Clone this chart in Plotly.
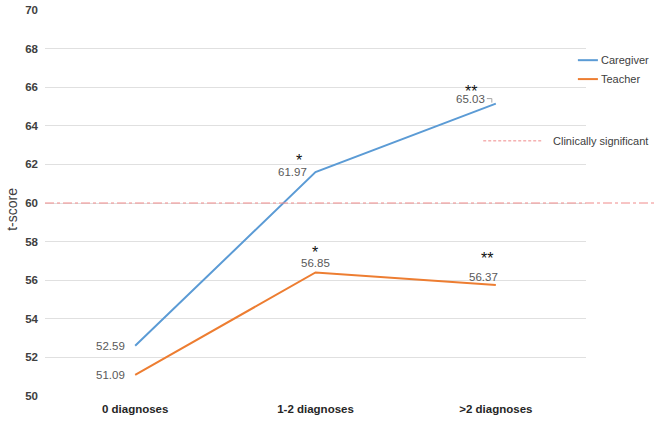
import plotly.graph_objects as go

categories = ["0 diagnoses", "1-2 diagnoses", ">2 diagnoses"]
caregiver = [52.6, 61.6, 65.15]
teacher = [51.1, 56.4, 55.75]
caregiver_labels = ["52.59", "61.97", "65.03"]
teacher_labels = ["51.09", "56.85", "56.37"]
caregiver_stars = ["", "*", "**"]
teacher_stars = ["", "*", "**"]
threshold = 60
y_ticks = [50, 52, 54, 56, 58, 60, 62, 64, 66, 68, 70]

BLUE = "#5B9BD5"
ORANGE = "#ED7D31"
RED = "#F08A8A"
FONT = "Liberation Sans, Arial, sans-serif"

fig = go.Figure()
fig.add_trace(go.Scatter(x=[0, 1, 2], y=caregiver, mode="lines", line=dict(color=BLUE, width=2),
                         name="Caregiver", showlegend=False, hoverinfo="skip"))
fig.add_trace(go.Scatter(x=[0, 1, 2], y=teacher, mode="lines", line=dict(color=ORANGE, width=2),
                         name="Teacher", showlegend=False, hoverinfo="skip"))

# threshold line across the chart
fig.add_shape(type="line", xref="paper", yref="y", x0=0, x1=1.128, y0=threshold, y1=threshold,
              line=dict(color=RED, width=1, dash="dashdot"))

# small leader line next to the 65.03 label
fig.add_shape(type="path", xref="x", yref="y", xsizemode="pixel", ysizemode="pixel",
              xanchor=2, yanchor=caregiver[2], path="M-9,5 L-4,5 L-4,1",
              line=dict(color="#A6A6A6", width=1))

lab_font = dict(family=FONT, size=11.5, color="#595959")
star_font = dict(family=FONT, size=16, color="#111111")

# value labels (xshift, yshift, xanchor)
cg_pos = [(-8, 0, "right"), (-7, 0, "right"), (-9, 5, "right")]
tc_pos = [(-8, 0, "right"), (0, 9, "center"), (-12, 8, "center")]
cg_star = [None, (-17, 12), (-25, 12)]
tc_star = [None, (-1, 20), (-9, 27)]
for i in range(3):
    xs, ys, xa = cg_pos[i]
    fig.add_annotation(x=i, y=caregiver[i], text=caregiver_labels[i], showarrow=False,
                       xanchor=xa, yanchor="middle", xshift=xs, yshift=ys, font=lab_font)
    xs, ys, xa = tc_pos[i]
    fig.add_annotation(x=i, y=teacher[i], text=teacher_labels[i], showarrow=False,
                       xanchor=xa, yanchor="middle", xshift=xs, yshift=ys, font=lab_font)
    if caregiver_stars[i]:
        xs, ys = cg_star[i]
        fig.add_annotation(x=i, y=caregiver[i], text=caregiver_stars[i], showarrow=False,
                           xanchor="center", yanchor="middle", xshift=xs, yshift=ys, font=star_font)
    if teacher_stars[i]:
        xs, ys = tc_star[i]
        fig.add_annotation(x=i, y=teacher[i], text=teacher_stars[i], showarrow=False,
                           xanchor="center", yanchor="middle", xshift=xs, yshift=ys, font=star_font)

# legend (manual)
leg_font = dict(family=FONT, size=11, color="#404040")
leg_items = [("Caregiver", BLUE, 0.870), ("Teacher", ORANGE, 0.821)]
for name, col, yy in leg_items:
    fig.add_shape(type="line", xref="paper", yref="paper", x0=0.985, x1=1.022, y0=yy, y1=yy,
                  line=dict(color=col, width=2))
    fig.add_annotation(xref="paper", yref="paper", x=1.024, y=yy, text=name, showarrow=False,
                       xanchor="left", yanchor="middle", font=leg_font)
fig.add_shape(type="line", xref="paper", yref="paper", x0=0.810, x1=0.919, y0=0.661, y1=0.661,
              line=dict(color=RED, width=1, dash="3px,2px"))
fig.add_annotation(xref="paper", yref="paper", x=0.935, y=0.661, text="Clinically significant",
                   showarrow=False, xanchor="left", yanchor="middle", font=leg_font)

# y-axis title
fig.add_annotation(xref="paper", yref="paper", x=-0.061, y=0.485, text="t-score", textangle=-90,
                   showarrow=False, xanchor="center", yanchor="middle",
                   font=dict(family=FONT, size=14, color="#404040"))

fig.update_layout(
    width=660, height=421,
    margin=dict(l=45, r=74, t=10, b=25, autoexpand=False),
    plot_bgcolor="white", paper_bgcolor="white",
    showlegend=False,
    font=dict(family=FONT),
    xaxis=dict(range=[-0.5, 2.5], tickmode="array", tickvals=[0, 1, 2], ticktext=categories,
               showgrid=False, zeroline=False, showline=False, ticks="", automargin=False,
               ticklabelstandoff=4,
               tickfont=dict(family=FONT, size=11.5, color="#262626", weight="bold")),
    yaxis=dict(range=[50, 70], tickvals=y_ticks, showgrid=True, gridcolor="#E0E0E0", gridwidth=1,
               zeroline=False, showline=False, ticks="", ticklabelstandoff=6, automargin=False,
               tickfont=dict(family=FONT, size=11.5, color="#404040", weight="bold")),
)
fig.write_html("out.html", config={"displayModeBar": False},
               post_script="document.body.style.margin='0';")
